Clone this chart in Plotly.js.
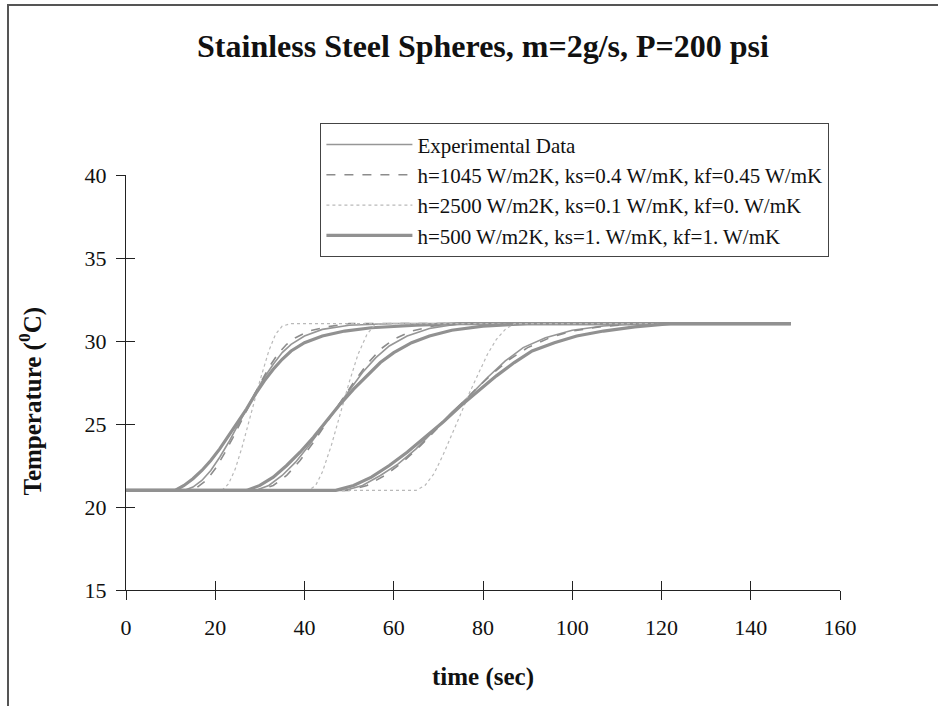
<!DOCTYPE html>
<html>
<head>
<meta charset="utf-8">
<script src="https://cdn.plot.ly/plotly-3.0.1.min.js"></script>
<style>
  html, body { margin: 0; padding: 0; background: #fff; }
  #wrap { position: relative; width: 938px; height: 706px; overflow: hidden; }
  #chart { position: absolute; left: 0; top: 0; width: 938px; height: 706px; }
  #frame { position: absolute; left: 7px; top: 4px; width: 960px; height: 720px;
           border-left: 2px solid #555; border-top: 2px solid #555; pointer-events: none; }
</style>
</head>
<body>
<div id="wrap"><div id="chart"></div><div id="frame"></div></div>
<script>
// ---- Data (time in s, temperature in °C) ----
const seriesNames = [
  "Experimental Data",
  "h=1045 W/m2K, ks=0.4 W/mK, kf=0.45 W/mK",
  "h=2500 W/m2K, ks=0.1 W/mK, kf=0. W/mK",
  "h=500 W/m2K, ks=1. W/mK, kf=1. W/mK"
];

// Group 1 (first sphere position)
const g1ExpT   = [0, 13, 15, 17, 19, 21, 23, 25, 27, 29, 31, 33, 35, 37, 40, 44, 50, 60, 149];
const g1ExpY   = [21, 21, 21.2, 21.6, 22.2, 23, 23.9, 24.9, 25.9, 26.9, 27.8, 28.6, 29.3, 29.8, 30.3, 30.7, 30.95, 31.05, 31.05];
const g1H1045T = [0, 14, 16, 18, 20, 22, 24, 26, 28, 30, 32, 34, 36, 38, 41, 45, 50, 149];
const g1H1045Y = [21, 21, 21.2, 21.6, 22.3, 23.2, 24.2, 25.3, 26.4, 27.4, 28.4, 29.2, 29.8, 30.2, 30.6, 30.85, 31.05, 31.05];
const g1H2500T = [0, 21.5, 23, 24.5, 26, 28, 30, 32, 33.5, 35, 37, 149];
const g1H2500Y = [21, 21, 21.4, 22.3, 23.6, 25.6, 27.6, 29.4, 30.4, 30.9, 31.05, 31.05];
const g1H500T  = [0, 11, 13, 15, 17, 19, 21, 23, 25, 27, 29, 31, 33, 35, 37, 40, 44, 49, 55, 65, 75, 149];
const g1H500Y  = [21, 21, 21.3, 21.7, 22.2, 22.8, 23.5, 24.3, 25.1, 25.9, 26.8, 27.6, 28.3, 28.9, 29.4, 29.9, 30.3, 30.6, 30.8, 30.95, 31.05, 31.05];

// Group 2 (second sphere position)
const g2ExpT   = [0, 29, 32, 35, 38, 41, 44, 47, 50, 53, 56, 59, 63, 68, 75, 149];
const g2ExpY   = [21, 21, 21.3, 21.9, 22.7, 23.7, 24.8, 25.9, 27.0, 28.1, 29.0, 29.7, 30.3, 30.75, 31.05, 31.05];
const g2H1045T = [0, 30, 33, 36, 39, 42, 45, 48, 51, 54, 57, 60, 64, 69, 76, 149];
const g2H1045Y = [21, 21, 21.3, 21.9, 22.8, 23.9, 25.1, 26.3, 27.5, 28.6, 29.5, 30.1, 30.6, 30.9, 31.05, 31.05];
const g2H2500T = [0, 41, 42.5, 44, 46, 48, 50, 52, 54, 55.5, 57, 149];
const g2H2500Y = [21, 21, 21.3, 22.1, 23.7, 25.6, 27.5, 29.2, 30.4, 30.9, 31.05, 31.05];
const g2H500T  = [0, 27, 30, 33, 36, 39, 42, 45, 48, 51, 54, 57, 60, 64, 68, 73, 80, 90, 149];
const g2H500Y  = [21, 21, 21.3, 21.8, 22.5, 23.3, 24.2, 25.2, 26.2, 27.1, 27.9, 28.7, 29.3, 29.9, 30.3, 30.65, 30.9, 31.05, 31.05];

// Group 3 (third sphere position)
const g3ExpT   = [0, 49, 53, 57, 61, 65, 69, 73, 77, 81, 85, 89, 94, 100, 107, 115, 149];
const g3ExpY   = [21, 21, 21.3, 21.9, 22.6, 23.5, 24.6, 25.7, 26.7, 27.8, 28.8, 29.6, 30.2, 30.65, 30.9, 31.05, 31.05];
const g3H1045T = [0, 50, 54, 58, 62, 66, 70, 74, 78, 82, 86, 90, 95, 100, 106, 115, 149];
const g3H1045Y = [21, 21, 21.3, 21.9, 22.7, 23.7, 24.8, 25.9, 27.0, 28.0, 28.9, 29.6, 30.2, 30.6, 30.85, 31.05, 31.05];
const g3H2500T = [0, 65, 67, 69, 71, 73, 75, 77, 79, 81, 83, 85, 87, 149];
const g3H2500Y = [21, 21, 21.3, 22, 23.1, 24.3, 25.6, 26.9, 28.1, 29.2, 30.1, 30.7, 31.05, 31.05];
const g3H500T  = [0, 47, 51, 55, 59, 63, 67, 71, 75, 79, 83, 87, 91, 96, 101, 107, 114, 122, 149];
const g3H500Y  = [21, 21, 21.3, 21.8, 22.5, 23.3, 24.2, 25.1, 26.1, 27.0, 27.9, 28.7, 29.4, 29.9, 30.3, 30.6, 30.85, 31.05, 31.05];

const xTickVals = [0, 20, 40, 60, 80, 100, 120, 140, 160];
const yTickVals = [15, 20, 25, 30, 35, 40];

// ---- Styles ----
const styles = [
  {color: "rgb(150,150,150)", width: 1.6, dash: "solid"},
  {color: "rgb(140,140,140)", width: 1.6, dash: "dash"},
  {color: "rgb(185,185,185)", width: 1.2, dash: "dot"},
  {color: "rgb(145,145,145)", width: 3.2, dash: "solid"}
];

const groups = [
  [[g1ExpT, g1ExpY], [g1H1045T, g1H1045Y], [g1H2500T, g1H2500Y], [g1H500T, g1H500Y]],
  [[g2ExpT, g2ExpY], [g2H1045T, g2H1045Y], [g2H2500T, g2H2500Y], [g2H500T, g2H500Y]],
  [[g3ExpT, g3ExpY], [g3H1045T, g3H1045Y], [g3H2500T, g3H2500Y], [g3H500T, g3H500Y]]
];

const traces = [];
groups.forEach((g, gi) => {
  g.forEach((s, si) => {
    traces.push({
      type: "scatter", mode: "lines",
      x: s[0], y: s[1],
      name: seriesNames[si],
      legendgroup: "s" + si,
      showlegend: gi === 0,
      line: {color: styles[si].color, width: styles[si].width, dash: styles[si].dash},
      hoverinfo: "skip"
    });
  });
});

const serif = "Liberation Serif, Times New Roman, serif";

const layout = {
  width: 938, height: 706,
  paper_bgcolor: "#fff", plot_bgcolor: "#fff",
  margin: {l: 126, r: 98, t: 175, b: 116},
  font: {family: serif, color: "#111", size: 22},
  title: {text: "<b>Stainless Steel Spheres, m=2g/s, P=200 psi</b>",
          font: {family: serif, size: 32, color: "#111"},
          x: 0.5, xref: "paper", xanchor: "center", y: 0.935, yref: "container", yanchor: "middle"},
  showlegend: true,
  legend: {
    x: 0.272, xanchor: "left", y: 1.125, yanchor: "top",
    bgcolor: "#fff", bordercolor: "#444", borderwidth: 1.2,
    font: {family: serif, size: 21, color: "#111"},
    itemwidth: 86, traceorder: "normal", tracegroupgap: 0
  },
  xaxis: {
    range: [0, 160], tickvals: xTickVals, ticks: "outside", ticklen: 9, tickwidth: 1, tickcolor: "#222",
    showline: true, linecolor: "#222", linewidth: 1, showgrid: false, zeroline: false,
    tickfont: {family: serif, size: 22, color: "#111"}, ticklabelstandoff: 9,
    title: {text: "<b>time (sec)</b>", font: {family: serif, size: 25, color: "#111"}, standoff: 28},
    fixedrange: true
  },
  yaxis: {
    range: [15, 40], tickvals: yTickVals, ticks: "outside", ticklen: 9, tickwidth: 1, tickcolor: "#222",
    showline: true, linecolor: "#222", linewidth: 1, showgrid: false, zeroline: false,
    tickfont: {family: serif, size: 22, color: "#111"}, ticklabelstandoff: 5,
    fixedrange: true
  },
  xaxis2: {
    overlaying: "x", range: [0, 160], tickvals: xTickVals, ticks: "inside", ticklen: 9, tickwidth: 1,
    tickcolor: "#222", showticklabels: false, showline: false, showgrid: false, zeroline: false, fixedrange: true
  },
  yaxis2: {
    overlaying: "y", range: [15, 40], tickvals: yTickVals, ticks: "inside", ticklen: 9, tickwidth: 1,
    tickcolor: "#222", showticklabels: false, showline: false, showgrid: false, zeroline: false, fixedrange: true
  },
  annotations: [{
    text: "<b>Temperature (<sup>0</sup>C)</b>", textangle: -90,
    xref: "paper", yref: "paper", x: -0.134, y: 0.455, xanchor: "center", yanchor: "middle",
    showarrow: false, font: {family: serif, size: 25, color: "#111"}
  }]
};

traces.push({type: "scatter", mode: "lines", x: [], y: [], xaxis: "x2", yaxis: "y2",
             showlegend: false, hoverinfo: "skip"});

Plotly.newPlot("chart", traces, layout, {displayModeBar: false, staticPlot: true});
</script>
</body>
</html>
